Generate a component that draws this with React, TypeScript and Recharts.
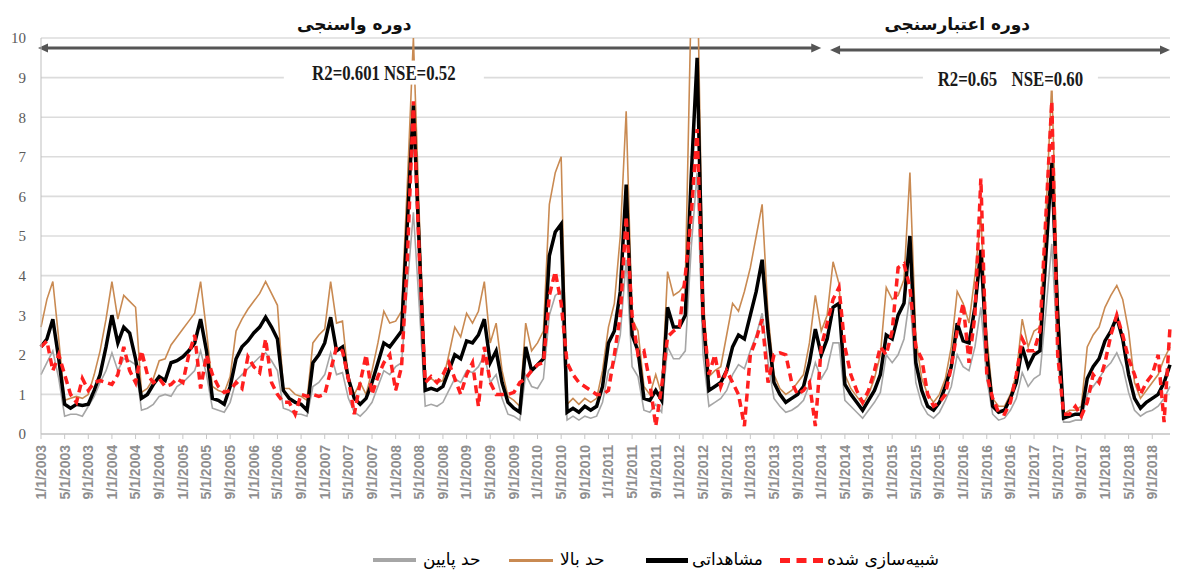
import React from 'react';
import {
  LineChart,
  Line,
  XAxis,
  YAxis,
  CartesianGrid,
  ReferenceLine,
  ReferenceDot,
} from 'recharts';

// monthly axis, 1/1/2003 .. 12/1/2018
const years = [2003, 2004, 2005, 2006, 2007, 2008, 2009, 2010, 2011, 2012, 2013, 2014, 2015, 2016, 2017, 2018];
const dates = years.flatMap((y) => Array.from({ length: 12 }, (_, m) => `${m + 1}/1/${y}`));

const yTicks = [0, 1, 2, 3, 4, 5, 6, 7, 8, 9, 10];

// مشاهداتی
const observed = [
  2.2, 2.4, 2.9, 1.9, 0.75, 0.65, 0.75, 0.72, 0.75, 1.1, 1.5, 2.2, // 2003
  3.0, 2.3, 2.7, 2.55, 1.9, 0.9, 1.0, 1.25, 1.45, 1.35, 1.8, 1.85, // 2004
  1.95, 2.1, 2.3, 2.9, 2.1, 0.9, 0.85, 0.75, 1.2, 1.9, 2.2, 2.35, // 2005
  2.55, 2.7, 2.95, 2.7, 2.4, 1.1, 0.9, 0.8, 0.75, 0.6, 1.8, 2.0, // 2006
  2.3, 2.95, 2.1, 2.2, 1.4, 0.9, 0.75, 0.9, 1.3, 1.8, 2.3, 2.2, // 2007
  2.4, 2.6, 5.4, 8.3, 4.7, 1.1, 1.15, 1.1, 1.2, 1.6, 2.0, 1.9, // 2008
  2.35, 2.3, 2.5, 2.9, 1.8, 2.1, 1.3, 0.8, 0.65, 0.55, 2.2, 1.6, // 2009
  1.75, 1.9, 4.5, 5.1, 5.3, 0.55, 0.65, 0.55, 0.7, 0.6, 0.7, 1.2, // 2010
  2.3, 2.6, 3.6, 6.3, 2.5, 2.1, 0.9, 0.85, 1.1, 0.85, 3.2, 2.7, // 2011
  2.7, 3.0, 6.5, 9.5, 3.0, 1.1, 1.2, 1.3, 1.6, 2.2, 2.5, 2.4, // 2012
  3.0, 3.6, 4.4, 2.6, 1.3, 1.0, 0.8, 0.9, 1.0, 1.2, 1.8, 2.65, // 2013
  2.0, 2.4, 3.2, 3.3, 1.25, 1.0, 0.8, 0.6, 0.85, 1.1, 1.5, 2.5, // 2014
  2.4, 3.0, 3.3, 5.0, 1.8, 1.1, 0.7, 0.6, 0.8, 1.2, 1.7, 2.8, // 2015
  2.35, 2.3, 3.2, 4.65, 2.0, 0.7, 0.55, 0.6, 0.9, 1.3, 2.2, 1.7, // 2016
  2.0, 2.1, 4.5, 6.85, 3.0, 0.4, 0.45, 0.5, 0.5, 1.4, 1.7, 1.9, // 2017
  2.35, 2.6, 2.95, 2.4, 1.5, 0.9, 0.65, 0.8, 0.9, 1.0, 1.3, 1.75, // 2018
];

// حد بالا
const upper = [
  2.7, 3.4, 3.85, 2.4, 0.85, 0.9, 0.95, 0.9, 1.0, 1.5, 2.1, 2.9,
  3.85, 2.9, 3.5, 3.35, 3.2, 1.05, 1.15, 1.4, 1.85, 1.9, 2.25, 2.45,
  2.65, 2.85, 3.05, 3.85, 2.6, 1.2, 1.1, 1.05, 1.45, 2.6, 2.9, 3.15,
  3.35, 3.55, 3.85, 3.55, 3.25, 1.15, 1.15, 1.0, 0.95, 0.85, 2.3, 2.5,
  2.65, 3.85, 2.8, 2.85, 1.4, 1.0, 1.3, 1.0, 1.6, 2.3, 3.1, 2.8,
  2.85, 3.1, 6.4, 10.0, 5.5, 1.35, 1.4, 1.3, 1.35, 2.0, 2.7, 2.45,
  3.05, 2.8, 3.1, 3.85, 2.3, 2.8, 1.6, 0.95, 0.85, 0.7, 2.8, 2.1,
  2.3, 2.6, 5.8, 6.6, 7.0, 0.75, 0.9, 0.75, 0.9, 0.8, 0.9, 1.6,
  2.7, 3.3, 5.0, 8.15, 2.9, 2.6, 1.2, 1.0, 1.5, 1.0, 4.1, 3.5,
  3.6, 3.8, 11.0, 12.0, 3.5, 1.45, 1.6, 1.7, 2.5, 3.3, 3.1, 3.6,
  4.2, 5.0, 5.8, 3.0, 1.5, 1.15, 1.0, 1.1, 1.3, 1.5, 2.3, 3.5,
  2.6, 3.0, 4.35, 3.8, 1.5, 1.15, 0.95, 0.75, 1.0, 1.4, 2.0, 3.7,
  3.4, 3.5, 3.9, 6.6, 2.4, 1.4, 1.0, 0.8, 1.0, 1.4, 2.2, 3.6,
  3.3, 2.8, 4.0, 5.5, 2.5, 0.9, 0.7, 0.7, 1.0, 1.5, 2.9, 2.2,
  2.6, 2.7, 5.5, 8.9, 3.5, 0.5, 0.6, 0.6, 0.7, 2.2, 2.5, 2.7,
  3.2, 3.5, 3.75, 3.4, 2.6, 1.3, 0.9, 1.1, 1.3, 1.5, 1.9, 2.2,
];

// حد پایین
const lower = [
  1.5, 1.8, 2.1, 1.4, 0.45, 0.5, 0.5, 0.45, 0.7, 0.95, 1.3, 1.6,
  2.05, 1.6, 1.9, 1.85, 1.75, 0.6, 0.65, 0.75, 0.95, 1.0, 0.95, 1.2,
  1.3, 1.45, 1.6, 2.1, 1.5, 0.65, 0.6, 0.55, 0.8, 1.35, 1.5, 1.65,
  1.8, 1.95, 2.05, 1.85, 1.6, 0.65, 0.6, 0.5, 0.5, 0.45, 1.2, 1.3,
  1.5, 2.05, 1.5, 1.55, 0.9, 0.55, 0.45, 0.6, 0.8, 1.2, 1.6, 1.5,
  1.7, 1.8, 3.8, 5.6, 3.2, 0.7, 0.75, 0.7, 0.8, 1.1, 1.4, 1.3,
  1.6, 1.55, 1.7, 2.0, 1.3, 1.5, 0.9, 0.5, 0.45, 0.35, 1.5, 1.2,
  1.15, 1.4, 3.0, 3.5, 3.6, 0.35, 0.45, 0.35, 0.45, 0.4, 0.45, 0.8,
  1.6, 1.8, 2.5, 4.4, 1.7, 1.45, 0.6, 0.55, 0.75, 0.55, 2.2, 1.9,
  1.9, 2.1, 4.7, 6.6, 2.0, 0.7, 0.8, 0.9, 1.1, 1.5, 1.75, 1.65,
  2.1, 2.5, 3.05, 1.8, 0.9, 0.7, 0.55, 0.6, 0.7, 0.85, 1.25, 1.8,
  1.4, 1.65, 2.3, 2.3, 0.85, 0.7, 0.55, 0.4, 0.6, 0.8, 1.05, 2.0,
  1.8, 2.0, 2.4, 3.5, 1.3, 0.75, 0.5, 0.4, 0.55, 0.85, 1.2, 2.0,
  1.7, 1.6, 2.2, 3.2, 1.4, 0.5, 0.35, 0.4, 0.6, 0.9, 1.55, 1.2,
  1.4, 1.5, 3.1, 4.8, 2.0, 0.3, 0.3, 0.35, 0.35, 1.0, 1.2, 1.4,
  1.65, 1.8, 2.05, 1.7, 1.05, 0.6, 0.45, 0.55, 0.6, 0.7, 0.9, 1.2,
];

// شبیه‌سازی شده
const simulated = [
  2.2, 2.35, 1.6, 2.0, 1.5, 1.0, 0.8, 1.4, 1.1, 1.3, 1.35, 1.3,
  1.25, 1.5, 2.2, 1.6, 1.3, 2.1, 1.5, 1.3, 1.4, 1.2, 1.25, 1.4,
  1.3, 2.0, 2.5, 1.15, 2.0, 1.5, 1.2, 1.05, 1.1, 1.3, 1.15, 1.95,
  1.7, 1.55, 2.4, 1.3, 1.0, 0.8, 0.8, 0.5, 1.0, 0.95, 1.0, 0.95,
  1.0, 1.6, 2.2, 2.1, 1.4, 0.5, 1.3, 2.0, 1.0, 1.45, 1.8, 2.0,
  1.1, 1.7, 4.5, 8.4, 4.5, 1.3, 1.45, 1.3, 1.5, 1.8, 1.4, 1.0,
  1.5, 1.8, 0.7, 2.2, 1.3, 1.0, 1.0, 1.0, 1.05, 1.3, 1.4, 1.6,
  1.75, 1.8, 3.5, 4.1, 3.3, 1.8, 1.5, 1.3, 1.2, 1.1, 1.0, 1.0,
  1.1, 2.0, 3.0, 5.5, 3.0, 2.0, 2.1, 1.3, 0.2, 1.2, 2.45, 2.6,
  2.7, 4.0, 5.5, 7.7, 3.0, 1.5, 2.0, 1.2, 1.6, 1.3, 1.0, 0.2,
  2.0, 2.4, 2.9, 1.3, 2.0, 2.05, 2.0, 1.3, 1.0, 1.1, 1.3, 0.2,
  2.2, 2.8, 3.4, 3.7, 2.2, 1.5, 1.1, 0.8, 1.1, 1.6, 2.2, 2.0,
  2.6, 4.2, 4.3, 3.7, 2.2, 1.9, 1.0, 0.7, 0.8, 1.0, 1.7, 2.6,
  3.3, 1.8, 3.0, 6.45, 1.5, 0.9, 0.55, 0.5, 0.8, 1.5, 2.4, 2.1,
  2.1, 2.6, 5.5, 8.4, 2.0, 0.5, 0.5, 0.7, 0.45, 0.8, 1.5, 1.3,
  1.8, 2.5, 3.0, 2.5, 1.9, 1.5, 1.0, 1.3, 1.5, 2.0, 0.3, 2.7,
];

const data = dates.map((date, i) => ({
  date,
  lower: lower[i],
  upper: upper[i],
  observed: observed[i],
  simulated: simulated[i],
}));

const persian = '"DejaVu Sans", sans-serif';
const serif = '"Liberation Serif", "Times New Roman", serif';

const XTick = (props: any) => {
  const { x, y, payload } = props;
  return (
    <g transform={`translate(${x},${y + 4})`}>
      <text
        transform="rotate(-90)"
        x={0}
        y={0}
        dy="0.35em"
        textAnchor="end"
        fill="#8f8f8f"
        fontSize={14}
        fontWeight="bold"
        fontFamily='"Liberation Sans", Arial, sans-serif'
      >
        {payload.value}
      </text>
    </g>
  );
};

const Arrow = (props: any) => {
  const { x1, y1, x2, y2 } = props;
  const h = 10;
  const w = 4.5;
  const a = x1 - 3;
  return (
    <g>
      <line x1={a + h - 2} y1={y1} x2={x2 - h + 2} y2={y2} stroke="#555" strokeWidth={3} />
      <path d={`M${a},${y1} L${a + h},${y1 - w} L${a + h},${y1 + w} Z`} fill="#555" />
      <path d={`M${x2},${y2} L${x2 - h},${y2 - w} L${x2 - h},${y2 + w} Z`} fill="#555" />
    </g>
  );
};

const titleShape = (text: string) => (p: any) => (
  <text
    x={p.cx}
    y={p.cy}
    textAnchor="middle"
    fontFamily={persian}
    fontWeight="bold"
    fontSize={17}
    fill="#111"
  >
    {text}
  </text>
);

const statsShape = (r2: string, nse: string, gap: number, boxW: number) => (p: any) => (
  <g>
    <rect x={p.cx - boxW / 2} y={p.cy - 19} width={boxW} height={24} fill="#fff" />
    <g transform={`translate(${p.cx},${p.cy}) scale(0.8,1)`}>
      <text x={0} y={0} textAnchor="middle" fontFamily={serif} fontWeight="bold" fontSize={21} fill="#1a1a1a">
        <tspan>{r2}</tspan>
        <tspan dx={gap}>{nse}</tspan>
      </text>
    </g>
  </g>
);

const legendItems = [
  { label: 'حد پایین', color: '#a6a6a6', h: 4, dash: false, left: 365, w: 43, textLeft: 415 },
  { label: 'حد بالا', color: '#c98a52', h: 3, dash: false, left: 501, w: 44, textLeft: 552 },
  { label: 'مشاهداتی', color: '#000', h: 5, dash: false, left: 638, w: 42, textLeft: 684 },
  { label: 'شبیه\u200cسازی شده', color: '#ff1f1f', h: 5, dash: true, left: 772, w: 43, textLeft: 819 },
];

const App = () => (
  <div style={{ position: 'relative', width: 1175, height: 570, background: '#fff' }}>
    <LineChart
      width={1175}
      height={570}
      data={data}
      margin={{ top: 30, right: 13, left: 0, bottom: 64 }}
    >
      <CartesianGrid vertical={false} stroke="#dcdcdc" strokeWidth={1.6} />
      <XAxis
        dataKey="date"
        interval={3}
        height={80}
        tick={<XTick />}
        tickLine={{ stroke: '#c8c8c8' }}
        tickSize={5}
        axisLine={{ stroke: '#bfbfbf' }}
      />
      <YAxis
        width={33}
        domain={[0, 10]}
        ticks={yTicks}
        allowDataOverflow
        tickLine={false}
        tickMargin={9}
        axisLine={{ stroke: '#bfbfbf' }}
        tick={{ fill: '#5a5a5a', fontSize: 15, fontFamily: serif }}
      />
      <ReferenceLine
        segment={[{ x: dates[0], y: 9.75 }, { x: dates[132], y: 9.75 }]}
        shape={<Arrow />}
        ifOverflow="visible"
      />
      <ReferenceLine
        segment={[{ x: dates[134], y: 9.7 }, { x: dates[191], y: 9.7 }]}
        shape={<Arrow />}
        ifOverflow="visible"
      />
      <ReferenceDot x={dates[53]} y={10.2} r={0} ifOverflow="visible" shape={titleShape('دوره واسنجی')} />
      <ReferenceDot x={dates[155]} y={10.2} r={0} ifOverflow="visible" shape={titleShape('دوره اعتبارسنجی')} />
      <ReferenceDot x={dates[58]} y={8.95} r={0} ifOverflow="visible" shape={statsShape('R2=0.601', 'NSE=0.52', 5, 200)} />
      <ReferenceDot x={dates[164]} y={8.8} r={0} ifOverflow="visible" shape={statsShape('R2=0.65', 'NSE=0.60', 18, 175)} />
      <Line dataKey="lower" stroke="#a6a6a6" strokeWidth={1.6} dot={false} isAnimationActive={false} />
      <Line dataKey="upper" stroke="#c98a52" strokeWidth={1.6} dot={false} isAnimationActive={false} />
      <Line dataKey="observed" stroke="#000" strokeWidth={3.5} dot={false} isAnimationActive={false} />
      <Line
        dataKey="simulated"
        stroke="#ff1f1f"
        strokeWidth={3.5}
        strokeDasharray="8 5"
        dot={false}
        isAnimationActive={false}
      />
    </LineChart>
    {legendItems.map((it) => (
      <React.Fragment key={it.label}>
        <div
          style={{
            position: 'absolute',
            left: it.left,
            top: 552 - it.h / 2,
            width: it.w,
            height: it.dash ? 0 : it.h,
            background: it.dash ? 'none' : it.color,
            borderTop: it.dash ? `${it.h}px dashed ${it.color}` : 'none',
          }}
        />
        <div
          style={{
            position: 'absolute',
            left: it.textLeft,
            top: 541,
            fontFamily: persian,
            fontSize: 17,
            color: '#000',
            whiteSpace: 'nowrap',
            direction: 'rtl',
          }}
        >
          {it.label}
        </div>
      </React.Fragment>
    ))}
  </div>
);

export default App;
